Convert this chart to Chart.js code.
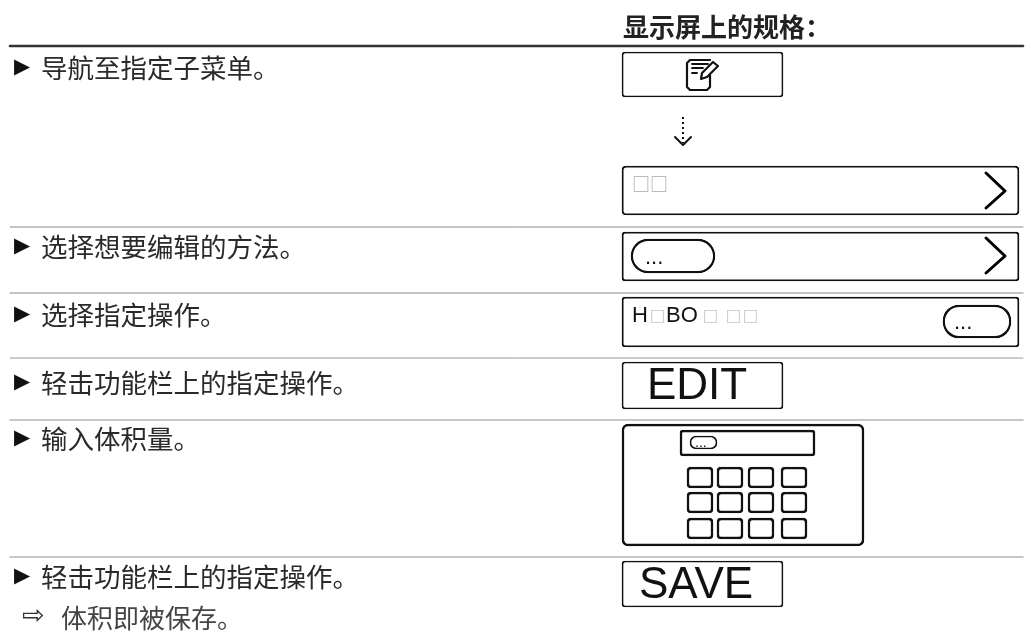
<!DOCTYPE html>
<html>
<head>
<meta charset="utf-8">
<style>
  html, body { margin: 0; padding: 0; background: #fff; }
  canvas { display: block; }
</style>
<script src="https://cdn.jsdelivr.net/npm/chart.js@4"></script>
</head>
<body>
<canvas id="chart" width="1031" height="633"></canvas>
<script>
// Textos
const headerText = '显示屏上的规格：';
const stepTexts = ['导航至指定子菜单。', '选择想要编辑的方法。', '选择指定操作。', '轻击功能栏上的指定操作。', '输入体积量。', '轻击功能栏上的指定操作。'];
const stepRows = [68, 247, 315, 383, 439, 577];
const resultText = '体积即被保存。';

// Lineas horizontales [y, grosor, color]
const ruleRows = [[46, 2.6, '#333333'], [227, 1, '#8c8c8c'], [293, 1.4, '#b0b0b0'], [358, 1, '#9a9a9a'], [420, 1.6, '#b4b4b4'], [557, 1.6, '#b4b4b4']];
const ruleStart = 10;
const ruleEnd = 1023;

// Cajas [izq, arriba, der, abajo, radio, grosor]
const boxes = [
  [622, 52, 783, 97, 3, 1],
  [622, 166, 1019, 215, 4, 1.2],
  [622, 232, 1019, 281, 3, 1.2],
  [631, 239, 715, 273, 17, 1.6],
  [622, 297, 1019, 347, 3, 1.2],
  [943, 305, 1011, 338, 16, 1.6],
  [622, 362, 783, 409, 3, 1],
  [622, 424, 864, 546, 6, 1.8],
  [680, 430, 815, 456, 3, 1.8],
  [690, 436, 717, 449, 6, 1],
  [622, 561, 783, 607, 3, 1]
];
const keyCols = [[687, 713], [717, 743], [748, 774], [781, 807]];
const keyRows = [[467, 488], [492, 513], [518, 539]];

// Trazos de iconos
const chevronTop = [[986, 173], [1005, 191], [986, 208]];
const chevronMid = [[986, 238], [1005, 256], [986, 273]];
const arrowStem = [[683, 117], [683, 143]];
const arrowHead = [[675, 137], [683, 145], [691, 137]];
const docOutline = [[710, 60], [690, 60], [687, 63], [687, 87], [690, 90], [707, 90], [710, 87], [710, 75]];
const docLines = [[[692, 64], [708, 64]], [[692, 68], [703, 68]], [[692, 73], [697, 73]]];
const pencil = [[701, 79], [702, 73], [713, 62], [718, 66], [707, 77], [701, 79]];

const lineSet = (points, color, width, dash) => ({
  type: 'line',
  data: points.map(p => ({ x: p[0], y: p[1] })),
  borderColor: color,
  borderWidth: width,
  borderDash: dash || [],
  borderCapStyle: dash ? 'butt' : 'round',
  borderJoinStyle: 'round',
  pointRadius: 0,
  tension: 0,
  fill: false,
  clip: false
});

const boxSet = (l, t, r, b, radius, width, color) => ({
  type: 'bar',
  indexAxis: 'y',
  grouped: false,
  data: [{ x: [l, r], y: (t + b) / 2 }],
  barThickness: b - t,
  borderColor: color || '#111111',
  backgroundColor: 'transparent',
  borderWidth: width,
  borderRadius: radius,
  borderSkipped: false
});

const datasets = [];
ruleRows.forEach(r => {
  datasets.push(lineSet([[ruleStart, r[0]], [ruleEnd, r[0]]], r[2], r[1]));
});
boxes.forEach(b => datasets.push(boxSet(b[0], b[1], b[2], b[3], b[4], b[5])));
keyRows.forEach(row => {
  keyCols.forEach(col => datasets.push(boxSet(col[0], row[0], col[1], row[1], 4, 1.8)));
});
datasets.push(lineSet(chevronTop, '#000000', 3));
datasets.push(lineSet(chevronMid, '#000000', 3));
datasets.push(lineSet(arrowStem, '#111111', 2, [2, 3]));
datasets.push(lineSet(arrowHead, '#111111', 2));
datasets.push(lineSet(docOutline, '#111111', 2.2));
docLines.forEach(l => datasets.push(lineSet(l, '#111111', 1.8)));
datasets.push(lineSet(pencil, '#111111', 2.2));

// Todo el texto del dibujo
const cjk = '"Noto Sans CJK SC"';
const latin = '"Liberation Sans"';
const textItems = [
  { t: headerText, x: 623, y: 27, font: 'bold 26px ' + cjk, color: '#222222' },
  { t: resultText, x: 61, y: 618, font: '26px ' + cjk, color: '#444444' },
  { t: '⇨', x: 22, y: 617, font: '27px "DejaVu Sans"', color: '#333333' },
  { t: '□□', x: 632, y: 184, font: '18px ' + cjk, color: '#a8a8a8' },
  { t: '...', x: 645, y: 258, font: '22px ' + latin, color: '#111111' },
  { t: '...', x: 954, y: 323, font: '22px ' + latin, color: '#111111' },
  { t: '...', x: 695, y: 443, font: '14px ' + latin, color: '#111111' },
  { t: 'H', x: 632, y: 316, font: '22px ' + latin, color: '#111111' },
  { t: '□', x: 650, y: 316, font: '15px ' + cjk, color: '#a8a8a8' },
  { t: 'BO', x: 666, y: 316, font: '22px ' + latin, color: '#111111' },
  { t: '□', x: 703, y: 316, font: '15px ' + cjk, color: '#a8a8a8' },
  { t: '□', x: 726, y: 316, font: '15px ' + cjk, color: '#a8a8a8' },
  { t: '□', x: 743, y: 316, font: '15px ' + cjk, color: '#a8a8a8' },
  { t: 'EDIT', x: 647, y: 387, font: '44px ' + latin, color: '#111111' },
  { t: 'SAVE', x: 639, y: 586, font: '44px ' + latin, color: '#111111' }
];
stepTexts.forEach((t, i) => {
  textItems.push({ t: '▶', x: 14, y: stepRows[i], font: '21px "DejaVu Sans"', color: '#111111' });
  textItems.push({ t: t, x: 41, y: stepRows[i], font: '26.5px ' + cjk, color: '#2a2a2a' });
});

const textPlugin = {
  id: 'textPlugin',
  afterDatasetsDraw(chart) {
    const { ctx, scales } = chart;
    ctx.save();
    ctx.textBaseline = 'middle';
    ctx.textAlign = 'left';
    textItems.forEach(item => {
      ctx.font = item.font;
      ctx.fillStyle = item.color;
      ctx.fillText(item.t, scales.x.getPixelForValue(item.x), scales.y.getPixelForValue(item.y));
    });
    ctx.restore();
  }
};

new Chart(document.getElementById('chart').getContext('2d'), {
  type: 'line',
  data: { datasets: datasets },
  options: {
    responsive: false,
    animation: false,
    devicePixelRatio: 1,
    layout: { padding: 0 },
    plugins: { legend: { display: false }, tooltip: { enabled: false } },
    scales: {
      x: { type: 'linear', min: 0, max: 1031, display: false, offset: false },
      y: { type: 'linear', min: 0, max: 633, reverse: true, display: false, offset: false }
    }
  },
  plugins: [textPlugin]
});
</script>
</body>
</html>
